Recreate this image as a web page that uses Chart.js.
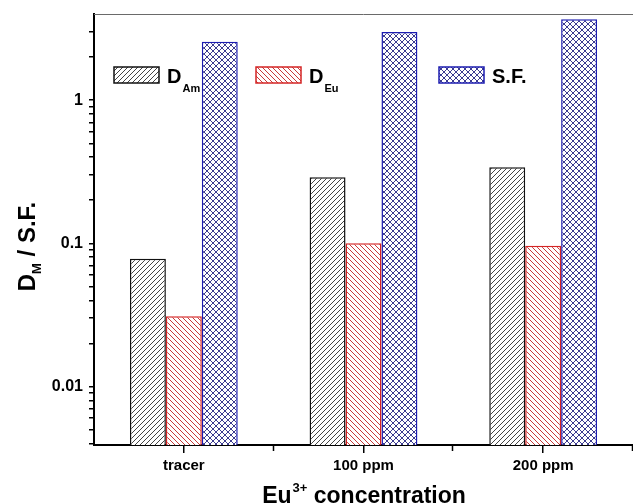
<!DOCTYPE html>
<html>
<head>
<meta charset="utf-8">
<script src="https://cdn.jsdelivr.net/npm/chart.js@4/dist/chart.umd.min.js"></script>
<style>
  html, body { margin: 0; padding: 0; background: #fff; }
  #wrap { width: 633px; height: 504px; position: relative; }
</style>
</head>
<body>
<div id="wrap"><canvas id="chart"></canvas></div>
<script>
// distribution ratios and separation factor vs. Eu(III) loading
const categories = ['tracer', '100 ppm', '200 ppm'];
const dAm = [0.078, 0.29, 0.34];
const dEu = [0.031, 0.100, 0.096];
const sepFactor = [2.56, 3.0, 3.68];

// legend names, split into main text and subscript
const seriesNames = ['D', 'D', 'S.F.'];
const seriesSubs = ['Am', 'Eu', ''];

// log axis: labelled decades, minor marks at 2..9 of each decade
const yMajorTicks = [0.01, 0.1, 1];
const yMinorSteps = [2, 3, 4, 5, 6, 7, 8, 9];
const yMin = 0.0039;
const yMax = 4;

const FONT = '"Liberation Sans", Arial, sans-serif';

function hatch(color, kind, size) {
  const c = document.createElement('canvas');
  c.width = c.height = size;
  const g = c.getContext('2d');
  g.fillStyle = '#fff';
  g.fillRect(0, 0, size, size);
  g.strokeStyle = color;
  g.lineWidth = 1;
  const fwd = () => {
    g.beginPath();
    g.moveTo(-1, size + 1); g.lineTo(size + 1, -1);
    g.moveTo(-1, 1); g.lineTo(1, -1);
    g.moveTo(size - 1, size + 1); g.lineTo(size + 1, size - 1);
    g.stroke();
  };
  const back = () => {
    g.beginPath();
    g.moveTo(-1, -1); g.lineTo(size + 1, size + 1);
    g.moveTo(size - 1, -1); g.lineTo(size + 1, 1);
    g.moveTo(-1, size - 1); g.lineTo(1, size + 1);
    g.stroke();
  };
  if (kind === '/' || kind === 'x') fwd();
  if (kind === '\\' || kind === 'x') back();
  return g.createPattern(c, 'repeat');
}

const yTickValues = [];
yMajorTicks.concat([0.001]).forEach(d => {
  yMinorSteps.forEach(m => {
    const v = +(m * d).toPrecision(3);
    if (v >= yMin && v < 3.5) yTickValues.push(v);
  });
});
yMajorTicks.forEach(v => yTickValues.push(v));
yTickValues.sort((a, b) => a - b);

// thin top frame line, bin-edge ticks on x, in-plot legend, axis titles
const decorations = {
  id: 'decorations',
  afterDraw(chart) {
    const ctx = chart.ctx;
    const { left, right, top, bottom } = chart.chartArea;
    const xs = chart.scales.x;

    ctx.save();
    ctx.strokeStyle = '#6a6a6a';
    ctx.lineWidth = 1;
    ctx.beginPath();
    ctx.moveTo(left, top + 0.5);
    ctx.lineTo(right, top + 0.5);
    ctx.stroke();

    // short ticks between categories
    ctx.strokeStyle = '#000';
    ctx.lineWidth = 1.5;
    const half = (xs.getPixelForValue(1) - xs.getPixelForValue(0)) / 2;
    ctx.beginPath();
    for (let i = 0; i < categories.length; i++) {
      const px = Math.round(xs.getPixelForValue(i) + half) - 0.5;
      ctx.moveTo(px, bottom);
      ctx.lineTo(px, bottom + 6);
    }
    ctx.stroke();

    // legend
    const boxX = [114, 256, 439];
    chart.data.datasets.forEach((ds, i) => {
      const bx = boxX[i], by = 67;
      ctx.fillStyle = ds.backgroundColor;
      ctx.fillRect(bx, by, 45, 16);
      ctx.strokeStyle = ds.borderColor;
      ctx.lineWidth = 1.5;
      ctx.strokeRect(bx, by, 45, 16);
      ctx.fillStyle = '#000';
      ctx.textBaseline = 'alphabetic';
      ctx.textAlign = 'left';
      ctx.font = 'bold 20px ' + FONT;
      ctx.fillText(seriesNames[i], bx + 53, 83);
      if (seriesSubs[i]) {
        const w = ctx.measureText(seriesNames[i]).width;
        ctx.font = 'bold 11px ' + FONT;
        ctx.fillText(seriesSubs[i], bx + 54 + w, 92);
      }
    });

    // y title: D_M / S.F.
    ctx.translate(35, (top + bottom) / 2 + 17);
    ctx.rotate(-Math.PI / 2);
    ctx.font = 'bold 24px ' + FONT;
    const wD = ctx.measureText('D').width;
    const wRest = ctx.measureText(' / S.F.').width;
    ctx.font = 'bold 13px ' + FONT;
    const wM = ctx.measureText('M').width;
    let x0 = -(wD + wM + wRest) / 2;
    ctx.font = 'bold 24px ' + FONT;
    ctx.fillText('D', x0, 0);
    ctx.font = 'bold 13px ' + FONT;
    ctx.fillText('M', x0 + wD, 6);
    ctx.font = 'bold 24px ' + FONT;
    ctx.fillText(' / S.F.', x0 + wD + wM, 0);
    ctx.restore();

    // x title: Eu3+ concentration
    ctx.save();
    ctx.fillStyle = '#000';
    ctx.textBaseline = 'alphabetic';
    ctx.font = 'bold 23px ' + FONT;
    const wEu = ctx.measureText('Eu').width;
    const wConc = ctx.measureText(' concentration').width;
    ctx.font = 'bold 13px ' + FONT;
    const wSup = ctx.measureText('3+').width;
    const cx = (left + right) / 2;
    let sx = cx - (wEu + wSup + wConc) / 2;
    ctx.font = 'bold 23px ' + FONT;
    ctx.fillText('Eu', sx, 503);
    ctx.font = 'bold 13px ' + FONT;
    ctx.fillText('3+', sx + wEu + 1, 492);
    ctx.font = 'bold 23px ' + FONT;
    ctx.fillText(' concentration', sx + wEu + wSup + 1, 503);
    ctx.restore();
  }
};

new Chart(document.getElementById('chart'), {
  type: 'bar',
  data: {
    labels: categories,
    datasets: [
      { label: 'D_Am', data: dAm, backgroundColor: hatch('#444', '/', 5), borderColor: '#111', borderWidth: 1.5 },
      { label: 'D_Eu', data: dEu, backgroundColor: hatch('#c83a3a', '\\', 5), borderColor: '#d42424', borderWidth: 1.5 },
      { label: 'S.F.', data: sepFactor, backgroundColor: hatch('#3b3b90', 'x', 6), borderColor: '#1c1cb0', borderWidth: 1.5 }
    ]
  },
  options: {
    responsive: true,
    maintainAspectRatio: false,
    animation: false,
    categoryPercentage: 0.6,
    barPercentage: 1.0,
    layout: { padding: { top: 14, right: 0, bottom: 0, left: 0 } },
    plugins: { legend: { display: false }, tooltip: { enabled: false } },
    scales: {
      x: {
        type: 'category',
        offset: true,
        afterFit: s => { s.height = 59; },
        grid: { display: true, drawOnChartArea: false, offset: false, tickLength: 8, color: '#000', lineWidth: 1.5 },
        border: { display: true, color: '#000', width: 2 },
        ticks: { color: '#000', font: { family: FONT, size: 15, weight: 'bold' }, padding: 4 }
      },
      y: {
        type: 'logarithmic',
        min: yMin,
        max: yMax,
        afterFit: s => { s.width = 94; s.paddingTop = 0; s.paddingBottom = 0; },
        afterBuildTicks: s => { s.ticks = yTickValues.map(v => ({ value: v })); },
        grid: { display: true, drawOnChartArea: false, tickLength: 5, color: '#000', lineWidth: 1.5 },
        border: { display: true, color: '#000', width: 2 },
        ticks: {
          autoSkip: false,
          color: '#000',
          padding: 6,
          font: { family: FONT, size: 16, weight: 'bold' },
          callback: v => yMajorTicks.includes(v) ? String(v) : ''
        }
      }
    }
  },
  plugins: [decorations]
});
</script>
</body>
</html>
